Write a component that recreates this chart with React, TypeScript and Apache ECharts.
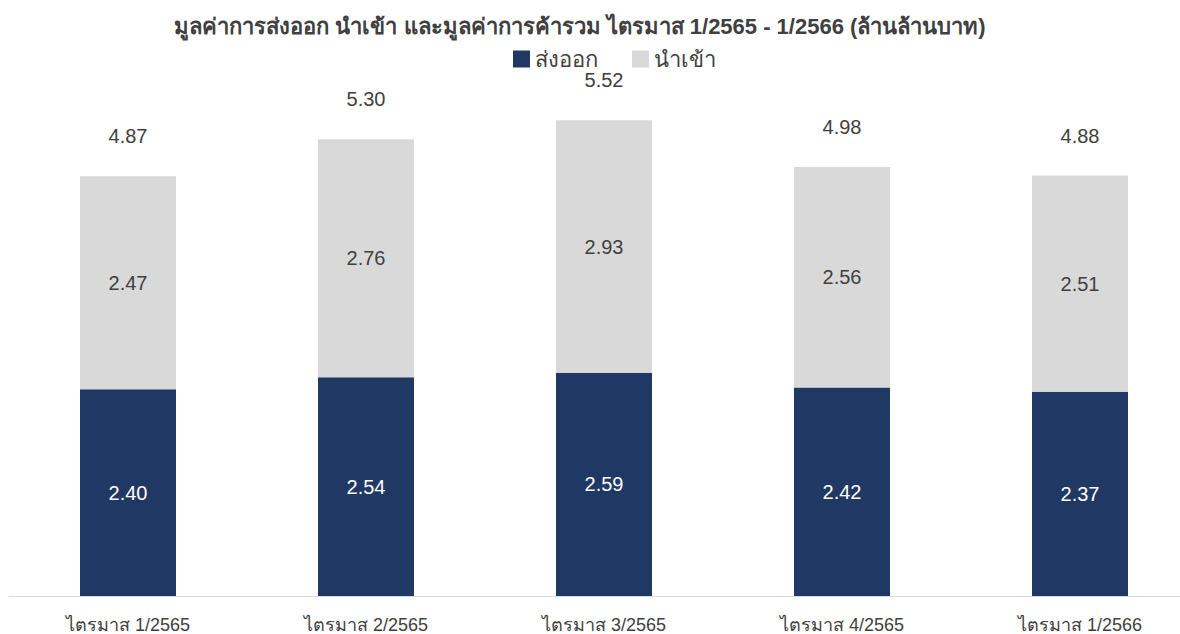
import React, { useEffect, useRef } from "react";
import * as echarts from "echarts";

const categories = ["ไตรมาส 1/2565", "ไตรมาส 2/2565", "ไตรมาส 3/2565", "ไตรมาส 4/2565", "ไตรมาส 1/2566"];
const exportsVal = [2.40, 2.54, 2.59, 2.42, 2.37];
const importsVal = [2.47, 2.76, 2.93, 2.56, 2.51];
const totals = [4.87, 5.30, 5.52, 4.98, 4.88];

const FONT = "'Liberation Sans', Arial, 'Noto Sans', sans-serif";

export default function App() {
  const ref = useRef<HTMLDivElement>(null);
  useEffect(() => {
    if (!ref.current) return;
    const chart = echarts.init(ref.current, undefined, { renderer: "svg" });
    chart.setOption({
      animation: false,
      backgroundColor: "#ffffff",
      textStyle: { fontFamily: FONT },
      title: {
        text: "มูลค่าการส่งออก นำเข้า และมูลค่าการค้ารวม ไตรมาส 1/2565 - 1/2566 (ล้านล้านบาท)",
        left: 575,
        textAlign: "center",
        top: 10,
        textStyle: { fontFamily: FONT, fontSize: 22, fontWeight: "bold", color: "#404040" },
      },
      legend: {
        data: ["ส่งออก", "นำเข้า"],
        left: 513,
        top: 48,
        icon: "rect",
        itemWidth: 17,
        itemHeight: 17,
        itemGap: 34,
        padding: 0,
        textStyle: { fontFamily: FONT, fontSize: 22, lineHeight: 20, color: "#404040" },
      },
      grid: { left: 9, top: 79, width: 1190, height: 519, containLabel: false },
      xAxis: {
        type: "category",
        data: categories,
        axisLine: { show: true, lineStyle: { color: "#d9d9d9", width: 1 } },
        axisTick: { show: false },
        axisLabel: { fontFamily: FONT, fontSize: 18, color: "#404040", margin: 20 },
      },
      yAxis: {
        type: "value",
        min: 0,
        max: 6,
        show: false,
        splitLine: { show: false },
      },
      series: [
        {
          name: "ส่งออก",
          type: "bar",
          stack: "t",
          barWidth: 96,
          data: exportsVal,
          itemStyle: { color: "#203864" },
          label: {
            show: true,
            position: "inside",
            formatter: (p: any) => p.value.toFixed(2),
            fontFamily: FONT,
            fontSize: 20,
            color: "#ffffff",
          },
        },
        {
          name: "นำเข้า",
          type: "bar",
          stack: "t",
          barWidth: 96,
          data: importsVal,
          itemStyle: { color: "#d9d9d9" },
          label: {
            show: true,
            position: "inside",
            formatter: (p: any) => p.value.toFixed(2),
            fontFamily: FONT,
            fontSize: 20,
            color: "#404040",
          },
        },
        {
          name: "รวม",
          type: "bar",
          barWidth: 96,
          barGap: "-100%",
          data: totals,
          itemStyle: { color: "rgba(0,0,0,0)" },
          silent: true,
          label: {
            show: true,
            position: "top",
            distance: 30,
            formatter: (p: any) => p.value.toFixed(2),
            fontFamily: FONT,
            fontSize: 20,
            color: "#404040",
          },
          z: 1,
        },
      ],
    });
    return () => chart.dispose();
  }, []);
  return (
    <div style={{ position: "fixed", left: 0, top: 0, width: 1180, height: 634, overflow: "hidden", background: "#fff" }}>
      <div ref={ref} style={{ width: 1200, height: 634 }} />
    </div>
  );
}
